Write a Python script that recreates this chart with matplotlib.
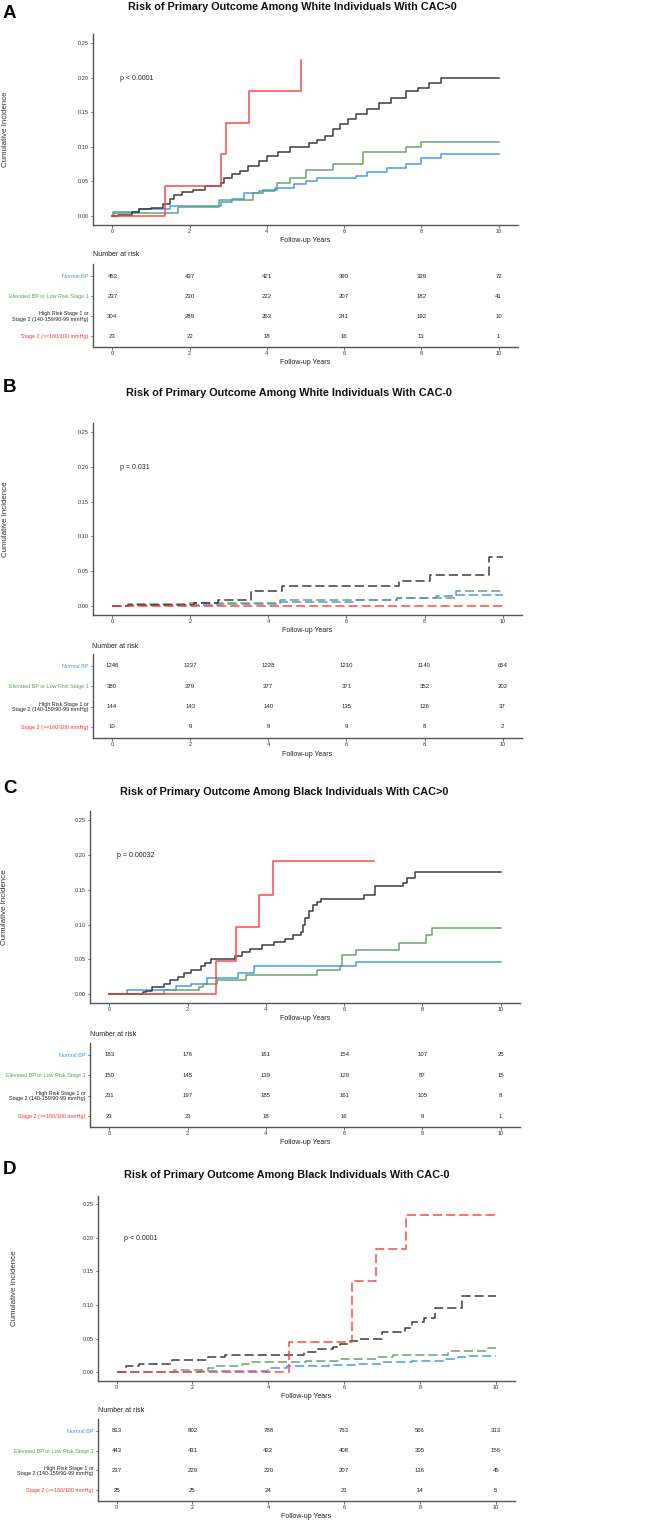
import matplotlib
matplotlib.use("Agg")
import matplotlib.pyplot as plt
from matplotlib import font_manager

W, H = 666, 1521

# ---------------- DATA ----------------
groups = ["Normal BP", "Elevated BP or Low Risk Stage 1",
          "High Risk Stage 1 or\nStage 2 (140-159/90-99 mmHg)", "Stage 2 (>=160/100 mmHg)"]
risk_times = [0, 2, 4, 6, 8, 10]
x_ticks = [0, 2, 4, 6, 8, 10]
y_ticks = [0.00, 0.05, 0.10, 0.15, 0.20, 0.25]

titles = ["Risk of Primary Outcome Among White Individuals With CAC>0",
          "Risk of Primary Outcome Among White Individuals With CAC-0",
          "Risk of Primary Outcome Among Black Individuals With CAC>0",
          "Risk of Primary Outcome Among Black Individuals With CAC-0"]
letters = ["A", "B", "C", "D"]
pvals = ["p < 0.0001", "p = 0.031", "p = 0.00032", "p < 0.0001"]

# Panel A (White, CAC>0)
A_normal_t = [0, 0.02, 0.7, 1.5, 2.8, 3.1, 3.4, 3.8, 4.2, 4.7, 5.0, 5.3, 6.3, 6.6, 7.1, 7.6, 8.0, 8.5, 10]
A_normal_y = [0, 0.005, 0.010, 0.015, 0.020, 0.025, 0.033, 0.036, 0.040, 0.046, 0.050, 0.055, 0.058, 0.063, 0.069, 0.075, 0.084, 0.089, 0.089]
A_elev_t = [0, 0.05, 1.7, 2.75, 3.65, 3.9, 4.25, 4.6, 5.0, 5.7, 6.5, 7.6, 8.0, 10]
A_elev_y = [0, 0.004, 0.013, 0.023, 0.033, 0.037, 0.048, 0.055, 0.066, 0.075, 0.092, 0.100, 0.107, 0.107]
A_high_t = [0, 0.15, 0.5, 0.7, 1.0, 1.3, 1.5, 1.6, 1.8, 2.1, 2.4, 2.8, 2.9, 3.1, 3.3, 3.5, 3.8, 4.0, 4.3, 4.6,
            5.1, 5.3, 5.5, 5.7, 5.9, 6.1, 6.3, 6.6, 6.9, 7.2, 7.6, 7.9, 8.2, 8.5, 10]
A_high_y = [0, 0.002, 0.005, 0.010, 0.012, 0.017, 0.025, 0.031, 0.034, 0.038, 0.044, 0.048, 0.055, 0.060, 0.065,
            0.072, 0.080, 0.087, 0.092, 0.100, 0.105, 0.110, 0.115, 0.125, 0.133, 0.140, 0.148, 0.155, 0.163,
            0.170, 0.180, 0.185, 0.192, 0.199, 0.199]
A_st2_t = [0, 1.36, 2.81, 2.95, 3.53, 4.89]
A_st2_y = [0, 0.044, 0.090, 0.135, 0.180, 0.225]
A_risk_normal = [453, 437, 421, 399, 339, 72]
A_risk_elev = [237, 230, 222, 207, 182, 41]
A_risk_high = [304, 289, 263, 241, 192, 10]
A_risk_st2 = [23, 22, 18, 16, 13, 1]

# Panel B (White, CAC-0)
B_normal_t = [0, 0.4, 2.8, 4.3, 6.2, 7.3, 8.3, 8.7, 10]
B_normal_y = [0, 0.001, 0.003, 0.006, 0.009, 0.011, 0.014, 0.016, 0.016]
B_elev_t = [0, 0.4, 2.0, 4.3, 7.3, 8.8, 10]
B_elev_y = [0, 0.003, 0.005, 0.008, 0.012, 0.021, 0.021]
B_high_t = [0, 0.4, 2.1, 2.7, 3.55, 4.35, 7.35, 8.15, 9.65, 10]
B_high_y = [0, 0.002, 0.004, 0.008, 0.022, 0.029, 0.036, 0.044, 0.070, 0.070]
B_st2_t = [0, 10]
B_st2_y = [0, 0]
B_risk_normal = [1246, 1237, 1228, 1210, 1140, 654]
B_risk_elev = [380, 379, 377, 371, 352, 202]
B_risk_high = [144, 143, 140, 135, 126, 37]
B_risk_st2 = [10, 9, 9, 9, 8, 2]

# Panel C (Black, CAC>0)
C_normal_t = [0, 0.45, 1.7, 2.1, 2.5, 3.3, 3.7, 6.3, 10]
C_normal_y = [0, 0.006, 0.012, 0.015, 0.023, 0.030, 0.040, 0.047, 0.047]
C_elev_t = [0, 1.4, 2.3, 2.4, 2.75, 3.5, 5.3, 5.9, 5.95, 6.3, 7.4, 8.1, 8.25, 10]
C_elev_y = [0, 0.006, 0.010, 0.015, 0.020, 0.028, 0.035, 0.040, 0.057, 0.064, 0.073, 0.085, 0.095, 0.095]
C_high_t = [0, 0.85, 0.95, 1.1, 1.4, 1.55, 1.75, 1.9, 2.1, 2.35, 2.45, 2.6, 3.2, 3.4, 3.6, 3.9, 4.2, 4.5,
            4.7, 4.9, 4.95, 5.0, 5.1, 5.2, 5.3, 5.4, 6.5, 6.8, 7.5, 7.6, 7.8, 10]
C_high_y = [0, 0.003, 0.005, 0.010, 0.015, 0.020, 0.025, 0.030, 0.035, 0.040, 0.045, 0.050, 0.055, 0.060,
            0.065, 0.070, 0.075, 0.080, 0.085, 0.090, 0.100, 0.110, 0.120, 0.128, 0.132, 0.137, 0.142,
            0.155, 0.160, 0.167, 0.175, 0.175]
C_st2_t = [0, 2.73, 3.24, 3.83, 4.19, 6.75]
C_st2_y = [0, 0.048, 0.096, 0.143, 0.191, 0.191]
C_risk_normal = [183, 176, 161, 154, 107, 25]
C_risk_elev = [150, 145, 139, 129, 87, 15]
C_risk_high = [211, 197, 185, 161, 105, 8]
C_risk_st2 = [23, 21, 18, 16, 9, 1]

# Panel D (Black, CAC-0)
D_normal_t = [0, 0.05, 2.2, 4.0, 4.5, 5.6, 6.3, 7.0, 7.8, 8.7, 9.0, 9.3, 10]
D_normal_y = [0, 0.001, 0.002, 0.006, 0.009, 0.011, 0.013, 0.015, 0.017, 0.020, 0.022, 0.024, 0.024]
D_elev_t = [0, 0.3, 1.5, 2.4, 2.6, 3.3, 3.5, 5.0, 5.9, 6.9, 7.3, 8.75, 9.8, 10]
D_elev_y = [0, 0.001, 0.004, 0.007, 0.009, 0.012, 0.015, 0.017, 0.020, 0.023, 0.026, 0.031, 0.036, 0.036]
D_high_t = [0, 0.25, 0.6, 1.45, 2.4, 2.85, 4.95, 5.3, 5.7, 5.9, 6.15, 6.4, 7.0, 7.6, 7.8, 8.1, 8.4, 9.1, 10]
D_high_y = [0, 0.009, 0.013, 0.018, 0.022, 0.026, 0.030, 0.034, 0.038, 0.042, 0.046, 0.050, 0.060,
            0.066, 0.075, 0.080, 0.096, 0.114, 0.114]
D_st2_t = [0, 4.56, 6.2, 6.83, 7.63, 10]
D_st2_y = [0, 0.045, 0.135, 0.183, 0.234, 0.234]
D_risk_normal = [813, 802, 788, 763, 566, 313]
D_risk_elev = [443, 431, 422, 408, 305, 156]
D_risk_high = [237, 229, 220, 207, 136, 45]
D_risk_st2 = [25, 25, 24, 21, 14, 5]

# ---------------- STYLE / LAYOUT ----------------
colors = ["#3D97EE", "#65A065", "#333333", "#FF3F3F"]
label_colors = ["#3D97EE", "#5E9E5E", "#222222", "#FF3030"]

avail = {f.name for f in font_manager.fontManager.ttflist}
NARROW = "Liberation Sans Narrow" if "Liberation Sans Narrow" in avail else "Liberation Sans"
REG = "Liberation Sans"
narrow_ok = NARROW == "Liberation Sans Narrow"

fig = plt.figure(figsize=(W / 100, H / 100), dpi=100)
fig.patch.set_facecolor("white")


def box(l, t, r, b):
    return fig.add_axes([l / W, 1 - b / H, (r - l) / W, (b - t) / H])


def ftxt(x, y, s, **kw):
    fig.text(x / W, 1 - y / H, s, **kw)


panels = [
    dict(curves=[(A_normal_t, A_normal_y), (A_elev_t, A_elev_y), (A_high_t, A_high_y), (A_st2_t, A_st2_y)],
         risk=[A_risk_normal, A_risk_elev, A_risk_high, A_risk_st2], dashed=False,
         plot=(93, 34.4, 518, 224.6), rows=(276, 336), title_y=6.5, letter_y=13.5, title_x=292,
         ylab_x=6, xlab_y=240, nar_y=255, tab_xlab_y=363),
    dict(curves=[(B_normal_t, B_normal_y), (B_elev_t, B_elev_y), (B_high_t, B_high_y), (B_st2_t, B_st2_y)],
         risk=[B_risk_normal, B_risk_elev, B_risk_high, B_risk_st2], dashed=True,
         plot=(92.5, 423.3, 522.2, 614.7), rows=(666, 727), title_y=393, letter_y=388, title_x=289,
         ylab_x=5.5, xlab_y=630, nar_y=646, tab_xlab_y=754),
    dict(curves=[(C_normal_t, C_normal_y), (C_elev_t, C_elev_y), (C_high_t, C_high_y), (C_st2_t, C_st2_y)],
         risk=[C_risk_normal, C_risk_elev, C_risk_high, C_risk_st2], dashed=False,
         plot=(89.7, 811.3, 520.3, 1003), rows=(1055, 1116), title_y=792.5, letter_y=788.5, title_x=284,
         ylab_x=4.5, xlab_y=1019, nar_y=1034.5, tab_xlab_y=1143),
    dict(curves=[(D_normal_t, D_normal_y), (D_elev_t, D_elev_y), (D_high_t, D_high_y), (D_st2_t, D_st2_y)],
         risk=[D_risk_normal, D_risk_elev, D_risk_high, D_risk_st2], dashed=True,
         plot=(97.7, 1195.6, 514.6, 1380.7), rows=(1431, 1490), title_y=1175, letter_y=1170, title_x=287,
         ylab_x=14, xlab_y=1396, nar_y=1411, tab_xlab_y=1516),
]

spine_col = "#555555"
tick_fs = 4.6 if narrow_ok else 4.1
lab_fs = 5.8 if narrow_ok else 5.0
title_fs = 9.6 if narrow_ok else 7.8
tab_fs = 4.6 if narrow_ok else 3.9


def style_axes(ax):
    for s in ["top", "right"]:
        ax.spines[s].set_visible(False)
    for s in ["left", "bottom"]:
        ax.spines[s].set_color(spine_col)
        ax.spines[s].set_linewidth(1.0)
    ax.tick_params(axis="both", length=1.8, width=0.6, color=spine_col, pad=1.2,
                   labelsize=tick_fs, labelcolor="#333333")
    for lab in ax.get_xticklabels() + ax.get_yticklabels():
        lab.set_fontfamily(NARROW)


for i, p in enumerate(panels):
    l, t, r, b = p["plot"]
    ax = box(l, t, r, b)
    ls = (0, (6, 2.6)) if p["dashed"] else "-"
    for (tt, yy), c in zip(p["curves"], colors):
        ax.step(tt, yy, where="post", color=c, lw=1.1, linestyle=ls, alpha=0.95)
    ax.set_xlim(-0.5, 10.5)
    ax.set_ylim(-0.0125, 0.2625)
    ax.set_xticks(x_ticks)
    ax.set_xticklabels([str(v) for v in x_ticks])
    ax.set_yticks(y_ticks)
    ax.set_yticklabels([f"{v:.2f}" for v in y_ticks])
    style_axes(ax)
    ax.text(0.2, 0.199, pvals[i], ha="left", va="center", fontsize=lab_fs, family=NARROW, color="#222222")

    # titles & labels
    ftxt(p["title_x"], p["title_y"], titles[i], ha="center", va="center", fontsize=title_fs,
         fontweight="bold", family=NARROW, color="#111111")
    ftxt(9.5, p["letter_y"], letters[i], ha="center", va="center", fontsize=15 if narrow_ok else 13.5,
         fontweight="bold", family=NARROW, color="black")
    ftxt(p["ylab_x"], (t + b) / 2, "Cumulative Incidence", ha="center", va="center", rotation=90,
         fontsize=5.7, family=REG, color="#333333")
    ftxt((l + r) / 2, p["xlab_y"], "Follow-up Years", ha="center", va="center", fontsize=lab_fs,
         family=NARROW, color="#222222")

    # risk table
    r_top, r_bot = p["rows"]
    sp = (r_bot - r_top) / 3.0
    tax = box(l, r_top - 0.6 * sp, r, r_bot + 0.55 * sp)
    tax.set_xlim(-0.5, 10.5)
    tax.set_ylim(0.45, 4.6)
    for gi, counts in enumerate(p["risk"]):
        yrow = 4 - gi
        for xv, n in zip(risk_times, counts):
            tax.text(xv, yrow, str(n), ha="center", va="center", fontsize=tab_fs + 0.4,
                     family=NARROW, color="#222222")
    tax.set_yticks([4, 3, 2, 1])
    tax.set_yticklabels(groups)
    tax.set_xticks(x_ticks)
    tax.set_xticklabels([str(v) for v in x_ticks])
    style_axes(tax)
    for lab, c in zip(tax.get_yticklabels(), label_colors):
        lab.set_color(c)
        lab.set_fontsize(tab_fs)
        lab.set_horizontalalignment("right")
        lab.set_multialignment("right")
        lab.set_linespacing(1.0)
    ftxt(l, p["nar_y"], "Number at risk", ha="left", va="center", fontsize=lab_fs,
         family=NARROW, color="#222222")
    ftxt((l + r) / 2, p["tab_xlab_y"], "Follow-up Years", ha="center", va="center", fontsize=lab_fs,
         family=NARROW, color="#222222")

fig.savefig("out.png", dpi=100, facecolor="white")
